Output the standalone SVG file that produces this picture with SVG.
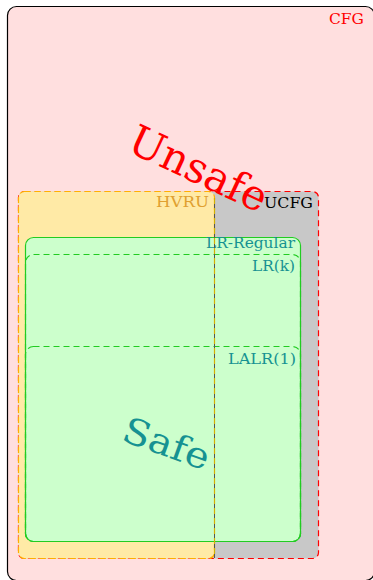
<svg xmlns="http://www.w3.org/2000/svg" width="373" height="580" viewBox="0 0 373 580">
<style>
text{font-family:"DejaVu Serif","Liberation Serif",serif;}
.lbl{font-size:15px;text-anchor:end;}
.teal{fill:#169292;}
.dash{fill:none;stroke:#22cc22;stroke-width:1.2;stroke-dasharray:6 4;}
</style>
<rect width="373" height="580" fill="#ffffff"/>
<g id="cfg">
<rect x="7.5" y="6.5" width="367" height="574" rx="9" fill="#ffdfdf" stroke="#000" stroke-width="1.2"/>
<text x="364" y="24" class="lbl" fill="#ff0000" textLength="35" lengthAdjust="spacingAndGlyphs">CFG</text>
</g>
<g id="ucfg">
<rect x="18.5" y="191.5" width="300" height="367" rx="6" fill="#c8c8c8" stroke="#ff0000" stroke-width="1.2" stroke-dasharray="6 4"/>
<text x="313" y="208" class="lbl" fill="#000" textLength="49" lengthAdjust="spacingAndGlyphs">UCFG</text>
</g>
<g id="hvru">
<rect x="18.5" y="191.5" width="196" height="367" rx="6" fill="#ffeaa6" stroke="#ffb000" stroke-width="1.2" stroke-dasharray="6 4"/>
<text x="209" y="207" class="lbl" fill="#e0a030" textLength="53" lengthAdjust="spacingAndGlyphs">HVRU</text>
</g>
<g id="lr-regular">
<rect x="25.5" y="237.5" width="275" height="304" rx="8" fill="#ccffcc" stroke="#22cc22" stroke-width="1.2"/>
<text x="295" y="248" class="lbl teal" textLength="89" lengthAdjust="spacingAndGlyphs">LR-Regular</text>
</g>
<g id="lrk">
<rect x="25.5" y="254.5" width="275" height="287" rx="8" class="dash"/>
<text x="295" y="271" class="lbl teal" textLength="43" lengthAdjust="spacingAndGlyphs">LR(k)</text>
</g>
<g id="lalr1">
<rect x="25.5" y="346.5" width="275" height="195" rx="8" class="dash"/>
<text x="296" y="364" class="lbl teal" textLength="68" lengthAdjust="spacingAndGlyphs">LALR(1)</text>
</g>
<g id="connectors">
<line x1="214.5" y1="198" x2="214.5" y2="558" stroke="#555" stroke-width="1"/>
<line x1="214.5" y1="198" x2="214.5" y2="558" stroke="#d4b000" stroke-width="1.2" stroke-dasharray="6 4"/>
</g>
<text x="198" y="183" font-size="42" fill="#ff0000" text-anchor="middle" textLength="148" lengthAdjust="spacingAndGlyphs" transform="rotate(25 198 170)">Unsafe</text>
<text x="166" y="456" font-size="36" fill="#169292" text-anchor="middle" textLength="90" lengthAdjust="spacingAndGlyphs" transform="rotate(20 166 445)">Safe</text>
</svg>
